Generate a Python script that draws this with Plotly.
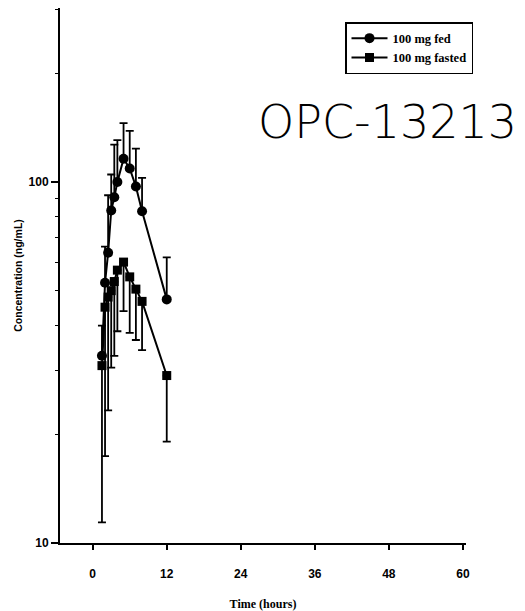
import plotly.graph_objects as go

# Data
time_h = [1.5, 2, 2.5, 3, 3.5, 4, 5, 6, 7, 8, 12]
fed_conc = [33, 52.6, 63.7, 83.4, 90.7, 100, 116, 109, 97.2, 83, 47.3]
fed_upper = [40, 66.2, 91.9, 104.9, 127, 130.6, 145.6, 138.5, 123.7, 102.7, 61.8]
fasted_conc = [31, 45, 48, 50, 53, 57, 60, 54.6, 50.5, 46.7, 29.1]
fasted_lower = [11.4, 17.4, 23.3, 30.6, 33, 38.6, 43.9, 38.2, 36.5, 34.2, 19.1]

x_ticks = [0, 12, 24, 36, 48, 60]
y_ticks = [10, 100]
y_minor = [20, 30, 40, 50, 60, 70, 80, 90, 200, 300]

fed_err_plus = [u - v for u, v in zip(fed_upper, fed_conc)]
fasted_err_minus = [v - l for v, l in zip(fasted_conc, fasted_lower)]

fig = go.Figure()
fig.add_trace(go.Scatter(
    x=time_h, y=fed_conc, mode="lines+markers", name="100 mg fed",
    line=dict(color="black", width=2),
    marker=dict(symbol="circle", size=10, color="black"),
    error_y=dict(type="data", symmetric=False, array=fed_err_plus,
                 arrayminus=[0] * len(fed_conc), color="black",
                 thickness=1.8, width=4),
))
fig.add_trace(go.Scatter(
    x=time_h, y=fasted_conc, mode="lines+markers", name="100 mg fasted",
    line=dict(color="black", width=2),
    marker=dict(symbol="square", size=9, color="black"),
    error_y=dict(type="data", symmetric=False, array=[0] * len(fasted_conc),
                 arrayminus=fasted_err_minus, color="black",
                 thickness=1.8, width=4),
))

tickfont = dict(family="Liberation Sans", size=12, color="black", weight="bold")

plot_w = 525 - 60 - 59
plot_h = 611 - 8 - 68

fig.update_layout(
    width=525, height=611,
    margin=dict(l=60, r=59, t=8, b=68),
    paper_bgcolor="white", plot_bgcolor="white",
    showlegend=True,
    legend=dict(
        x=(345 - 60) / plot_w, y=(543 - 22) / plot_h, xanchor="left", yanchor="top",
        bordercolor="black", borderwidth=1.5, bgcolor="white",
        font=dict(family="Liberation Serif", size=12.5, color="black", weight="bold"),
        tracegroupgap=0, itemwidth=36,
    ),
    xaxis=dict(
        range=[-5.3, 60.5], tickvals=x_ticks, ticks="outside", ticklen=5,
        tickwidth=1.5, tickcolor="black", showline=True, linecolor="black",
        linewidth=2, showgrid=False, zeroline=False, tickfont=tickfont,
        ticklabelstandoff=14, automargin=False,
        title=dict(text="Time (hours)", font=dict(family="Liberation Serif", size=12,
                                                   color="black", weight="bold"),
                   standoff=19),
    ),
    yaxis=dict(
        type="log", range=[1, 2.482], tickvals=y_ticks, ticktext=["10", "100"],
        ticks="outside", ticklen=7, tickwidth=1.5, tickcolor="black",
        showline=True, linecolor="black", linewidth=2, showgrid=False,
        zeroline=False, tickfont=tickfont, automargin=False,
        minor=dict(tickvals=y_minor, ticks="outside", ticklen=3, tickcolor="black",
                   tickwidth=1.2, showgrid=False),
        title=dict(text="Concentration (ng/mL)",
                   font=dict(family="Liberation Sans", size=10.5, color="black",
                             weight="bold"),
                   standoff=4),
    ),
    annotations=[dict(
        text="OPC-13213",
        x=(256 - 60) / plot_w, y=(543 - 122) / plot_h,
        xref="paper", yref="paper",
        showarrow=False, xanchor="left", yanchor="middle",
        font=dict(family="DejaVu Sans", size=46, color="black", weight=200),
    )],
)

fig.write_html("out.html")
